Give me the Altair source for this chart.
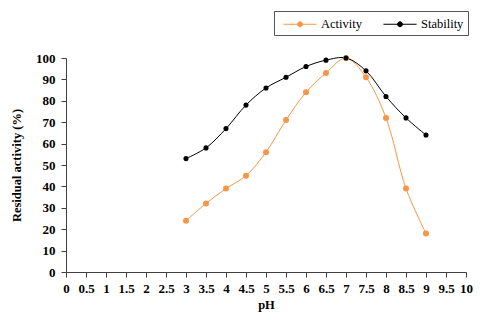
import altair as alt
import pandas as pd

ph = [3, 3.5, 4, 4.5, 5, 5.5, 6, 6.5, 7, 7.5, 8, 8.5, 9]
activity = [24, 32, 39, 45, 56, 71, 84, 93, 100, 91, 72, 39, 18]
stability = [53, 58, 67, 78, 86, 91, 96, 99, 100, 94, 82, 72, 64]
series = ["Activity", "Stability"]
colors = ["#F79646", "#000000"]
x_ticks = [0, 0.5, 1, 1.5, 2, 2.5, 3, 3.5, 4, 4.5, 5, 5.5, 6, 6.5, 7, 7.5, 8, 8.5, 9, 9.5, 10]
y_ticks = [0, 10, 20, 30, 40, 50, 60, 70, 80, 90, 100]

df = pd.DataFrame(
    {"pH": ph * 2,
     "value": activity + stability,
     "series": [series[0]] * len(ph) + [series[1]] * len(ph)}
)

FONT = "Liberation Serif"

x = alt.X("pH:Q", title="pH",
          scale=alt.Scale(domain=[0, 10], nice=False),
          axis=alt.Axis(values=x_ticks, labelExpr="datum.value", grid=False,
                        labelFlush=False))
y = alt.Y("value:Q", title="Residual activity (%)",
          scale=alt.Scale(domain=[0, 100], nice=False),
          axis=alt.Axis(values=y_ticks, grid=False))
color = alt.Color("series:N", scale=alt.Scale(domain=series, range=colors),
                  legend=alt.Legend(title=None))

legend_path = "M-2,0L2,0M-0.3,0A0.3,0.3,0,1,1,0.3,0A0.3,0.3,0,1,1,-0.3,0Z"

line = alt.Chart(df).mark_line(interpolate="catmull-rom", strokeWidth=1).encode(
    x=x, y=y, color=color)
pts_a = alt.Chart(df).transform_filter(alt.datum.series == series[0]).mark_point(
    filled=True, opacity=1, size=36).encode(x=x, y=y, color=color)
pts_s = alt.Chart(df).transform_filter(alt.datum.series == series[1]).mark_point(
    filled=True, opacity=1, size=26).encode(x=x, y=y, color=color)

chart = alt.layer(line, pts_a, pts_s).properties(
    width=400, height=214,
    autosize=alt.AutoSizeParams(type="none"),
    padding={"left": 58, "top": 50, "right": 9, "bottom": 40},
).configure_view(stroke=None).configure_axis(
    labelFont=FONT, titleFont=FONT, labelFontWeight="bold", titleFontWeight="bold",
    labelFontSize=13, titleFontSize=12.5, labelColor="#000000", titleColor="#000000",
    domainColor="#404040", tickColor="#404040", tickSize=5,
).configure_axisX(titlePadding=3, labelPadding=5).configure_axisY(
    titlePadding=12, labelPadding=6).configure_legend(
    orient="none", legendX=208, legendY=-47, direction="horizontal",
    strokeColor="#555555", padding=4, labelFont=FONT, labelFontSize=12.5,
    labelColor="#000000", symbolType=legend_path, symbolSize=275,
    symbolStrokeWidth=1, columnPadding=16, labelOffset=12, symbolOffset=13,
)

chart.save("out.html", embed_options={"renderer": "svg", "actions": False})
